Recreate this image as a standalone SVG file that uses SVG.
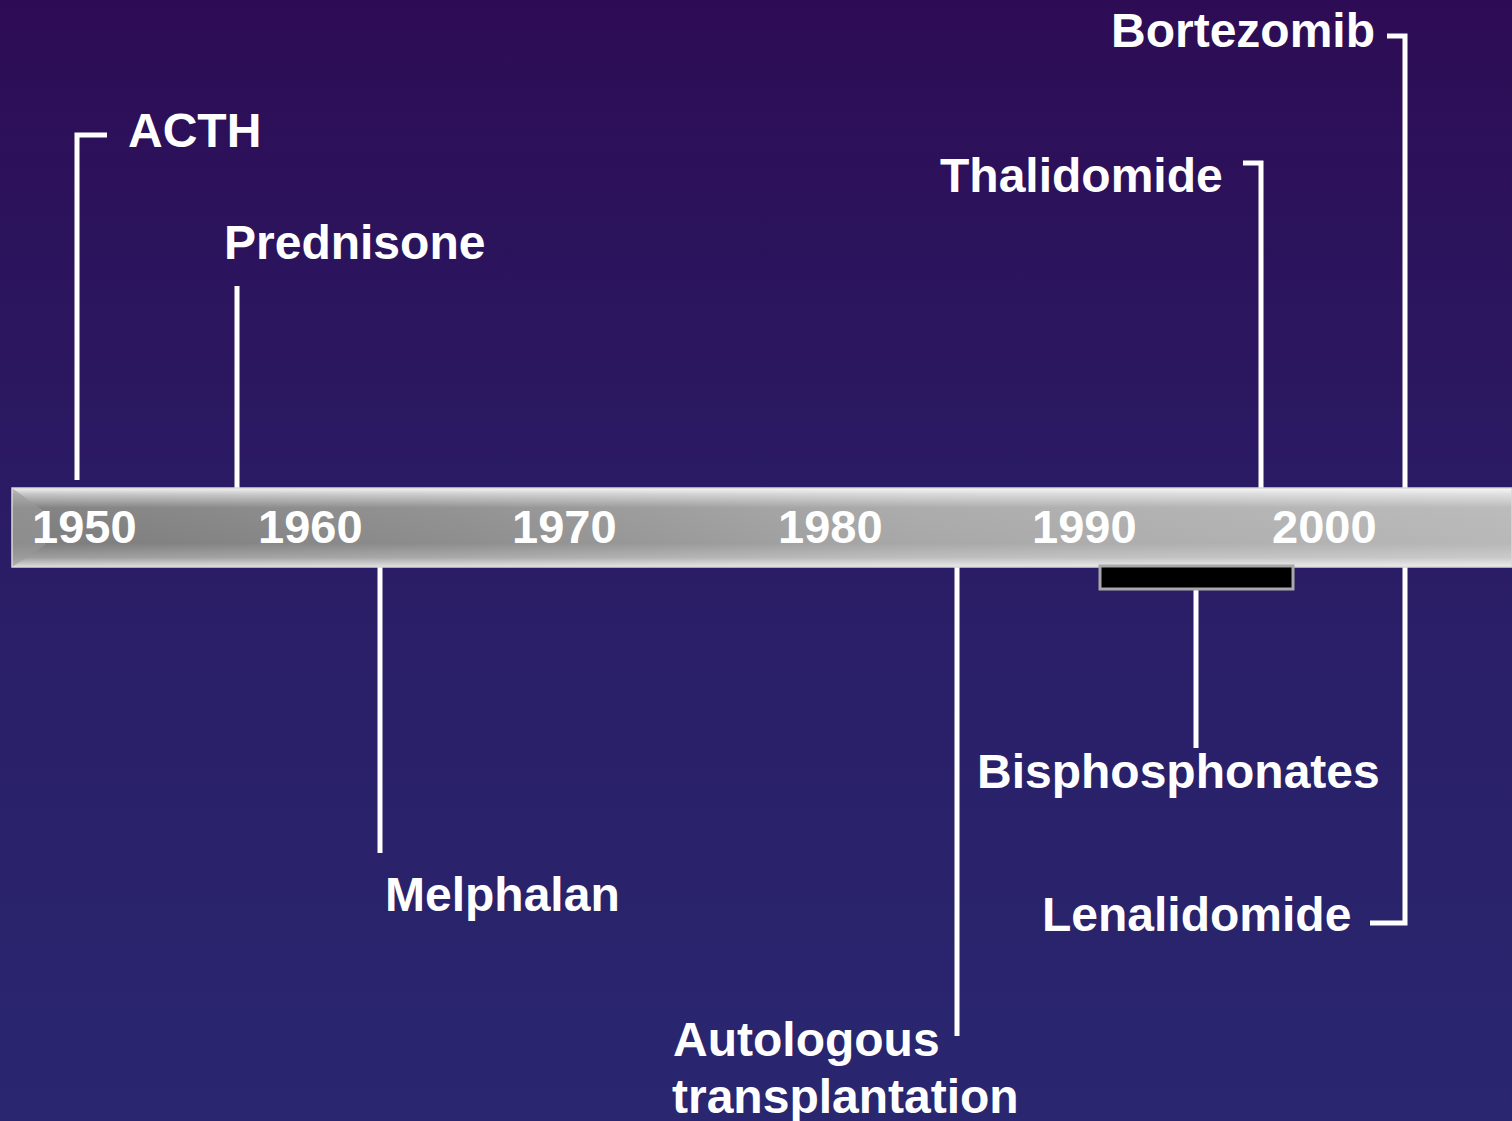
<svg xmlns="http://www.w3.org/2000/svg" width="1512" height="1121" viewBox="0 0 1512 1121">
<defs>
<linearGradient id="bg" x1="0" y1="0" x2="0" y2="1">
<stop offset="0" stop-color="#2d0c55"/>
<stop offset="0.5" stop-color="#2a1d66"/>
<stop offset="1" stop-color="#292770"/>
</linearGradient>
<linearGradient id="barH" x1="0" y1="0" x2="1" y2="0">
<stop offset="0" stop-color="#7c7c7c"/>
<stop offset="0.3" stop-color="#8e8e8e"/>
<stop offset="0.6" stop-color="#a8a8a8"/>
<stop offset="1" stop-color="#b8b8b8"/>
</linearGradient>
<linearGradient id="barV" x1="0" y1="0" x2="0" y2="1">
<stop offset="0" stop-color="#ffffff" stop-opacity="0.9"/>
<stop offset="0.08" stop-color="#ffffff" stop-opacity="0.55"/>
<stop offset="0.25" stop-color="#ffffff" stop-opacity="0.05"/>
<stop offset="0.7" stop-color="#ffffff" stop-opacity="0"/>
<stop offset="0.88" stop-color="#ffffff" stop-opacity="0.25"/>
<stop offset="1" stop-color="#ffffff" stop-opacity="0.75"/>
</linearGradient>
<style>
.ln{stroke:#ffffff;stroke-width:5;fill:none;stroke-linecap:butt;stroke-linejoin:miter}
.lbl{font-family:"Liberation Sans",Arial,sans-serif;font-weight:bold;font-size:48px;fill:#ffffff}
.yr{font-family:"Liberation Sans",Arial,sans-serif;font-weight:bold;font-size:47px;fill:#ffffff}
</style>
</defs>
<rect x="0" y="0" width="1512" height="1121" fill="url(#bg)"/>

<g id="connectors">
<path class="ln" d="M107,135 H77 V480"/>
<path class="ln" d="M237,286 V488"/>
<path class="ln" d="M380,567 V853"/>
<path class="ln" d="M957,567 V1036"/>
<path class="ln" d="M1196,590 V748"/>
<path class="ln" d="M1243,163 H1261 V488"/>
<path class="ln" d="M1387,36 H1405 V488"/>
<path class="ln" d="M1405,567 V923 H1370"/>
</g>

<g id="timeline">
<rect x="12" y="488" width="1500" height="79" fill="url(#barH)"/>
<rect x="12" y="488" width="1500" height="79" fill="url(#barV)"/>
<polygon points="12,488 45,512 45,545 12,567" fill="#9a9a9a" opacity="0.6"/>
<rect x="12" y="488" width="1500" height="79" fill="none" stroke="#d8d8d8" stroke-width="1.5"/>
<text class="yr" x="32" y="543">1950</text>
<text class="yr" x="258" y="543">1960</text>
<text class="yr" x="512" y="543">1970</text>
<text class="yr" x="778" y="543">1980</text>
<text class="yr" x="1032" y="543">1990</text>
<text class="yr" x="1272" y="543">2000</text>
</g>

<g id="bisphosphonates-bar">
<rect x="1100" y="566" width="193" height="23" fill="#000000" stroke="#a8a8a8" stroke-width="3"/>
</g>

<g id="acth"><text class="lbl" x="128" y="147">ACTH</text></g>
<g id="prednisone"><text class="lbl" x="224" y="259">Prednisone</text></g>
<g id="thalidomide"><text class="lbl" x="940" y="192">Thalidomide</text></g>
<g id="bortezomib"><text class="lbl" x="1111" y="47">Bortezomib</text></g>
<g id="melphalan"><text class="lbl" x="385" y="911">Melphalan</text></g>
<g id="bisphosphonates"><text class="lbl" x="977" y="788">Bisphosphonates</text></g>
<g id="lenalidomide"><text class="lbl" x="1042" y="931">Lenalidomide</text></g>
<g id="autologous"><text class="lbl" x="673" y="1056">Autologous<tspan x="672" y="1113">transplantation</tspan></text></g>
</svg>
